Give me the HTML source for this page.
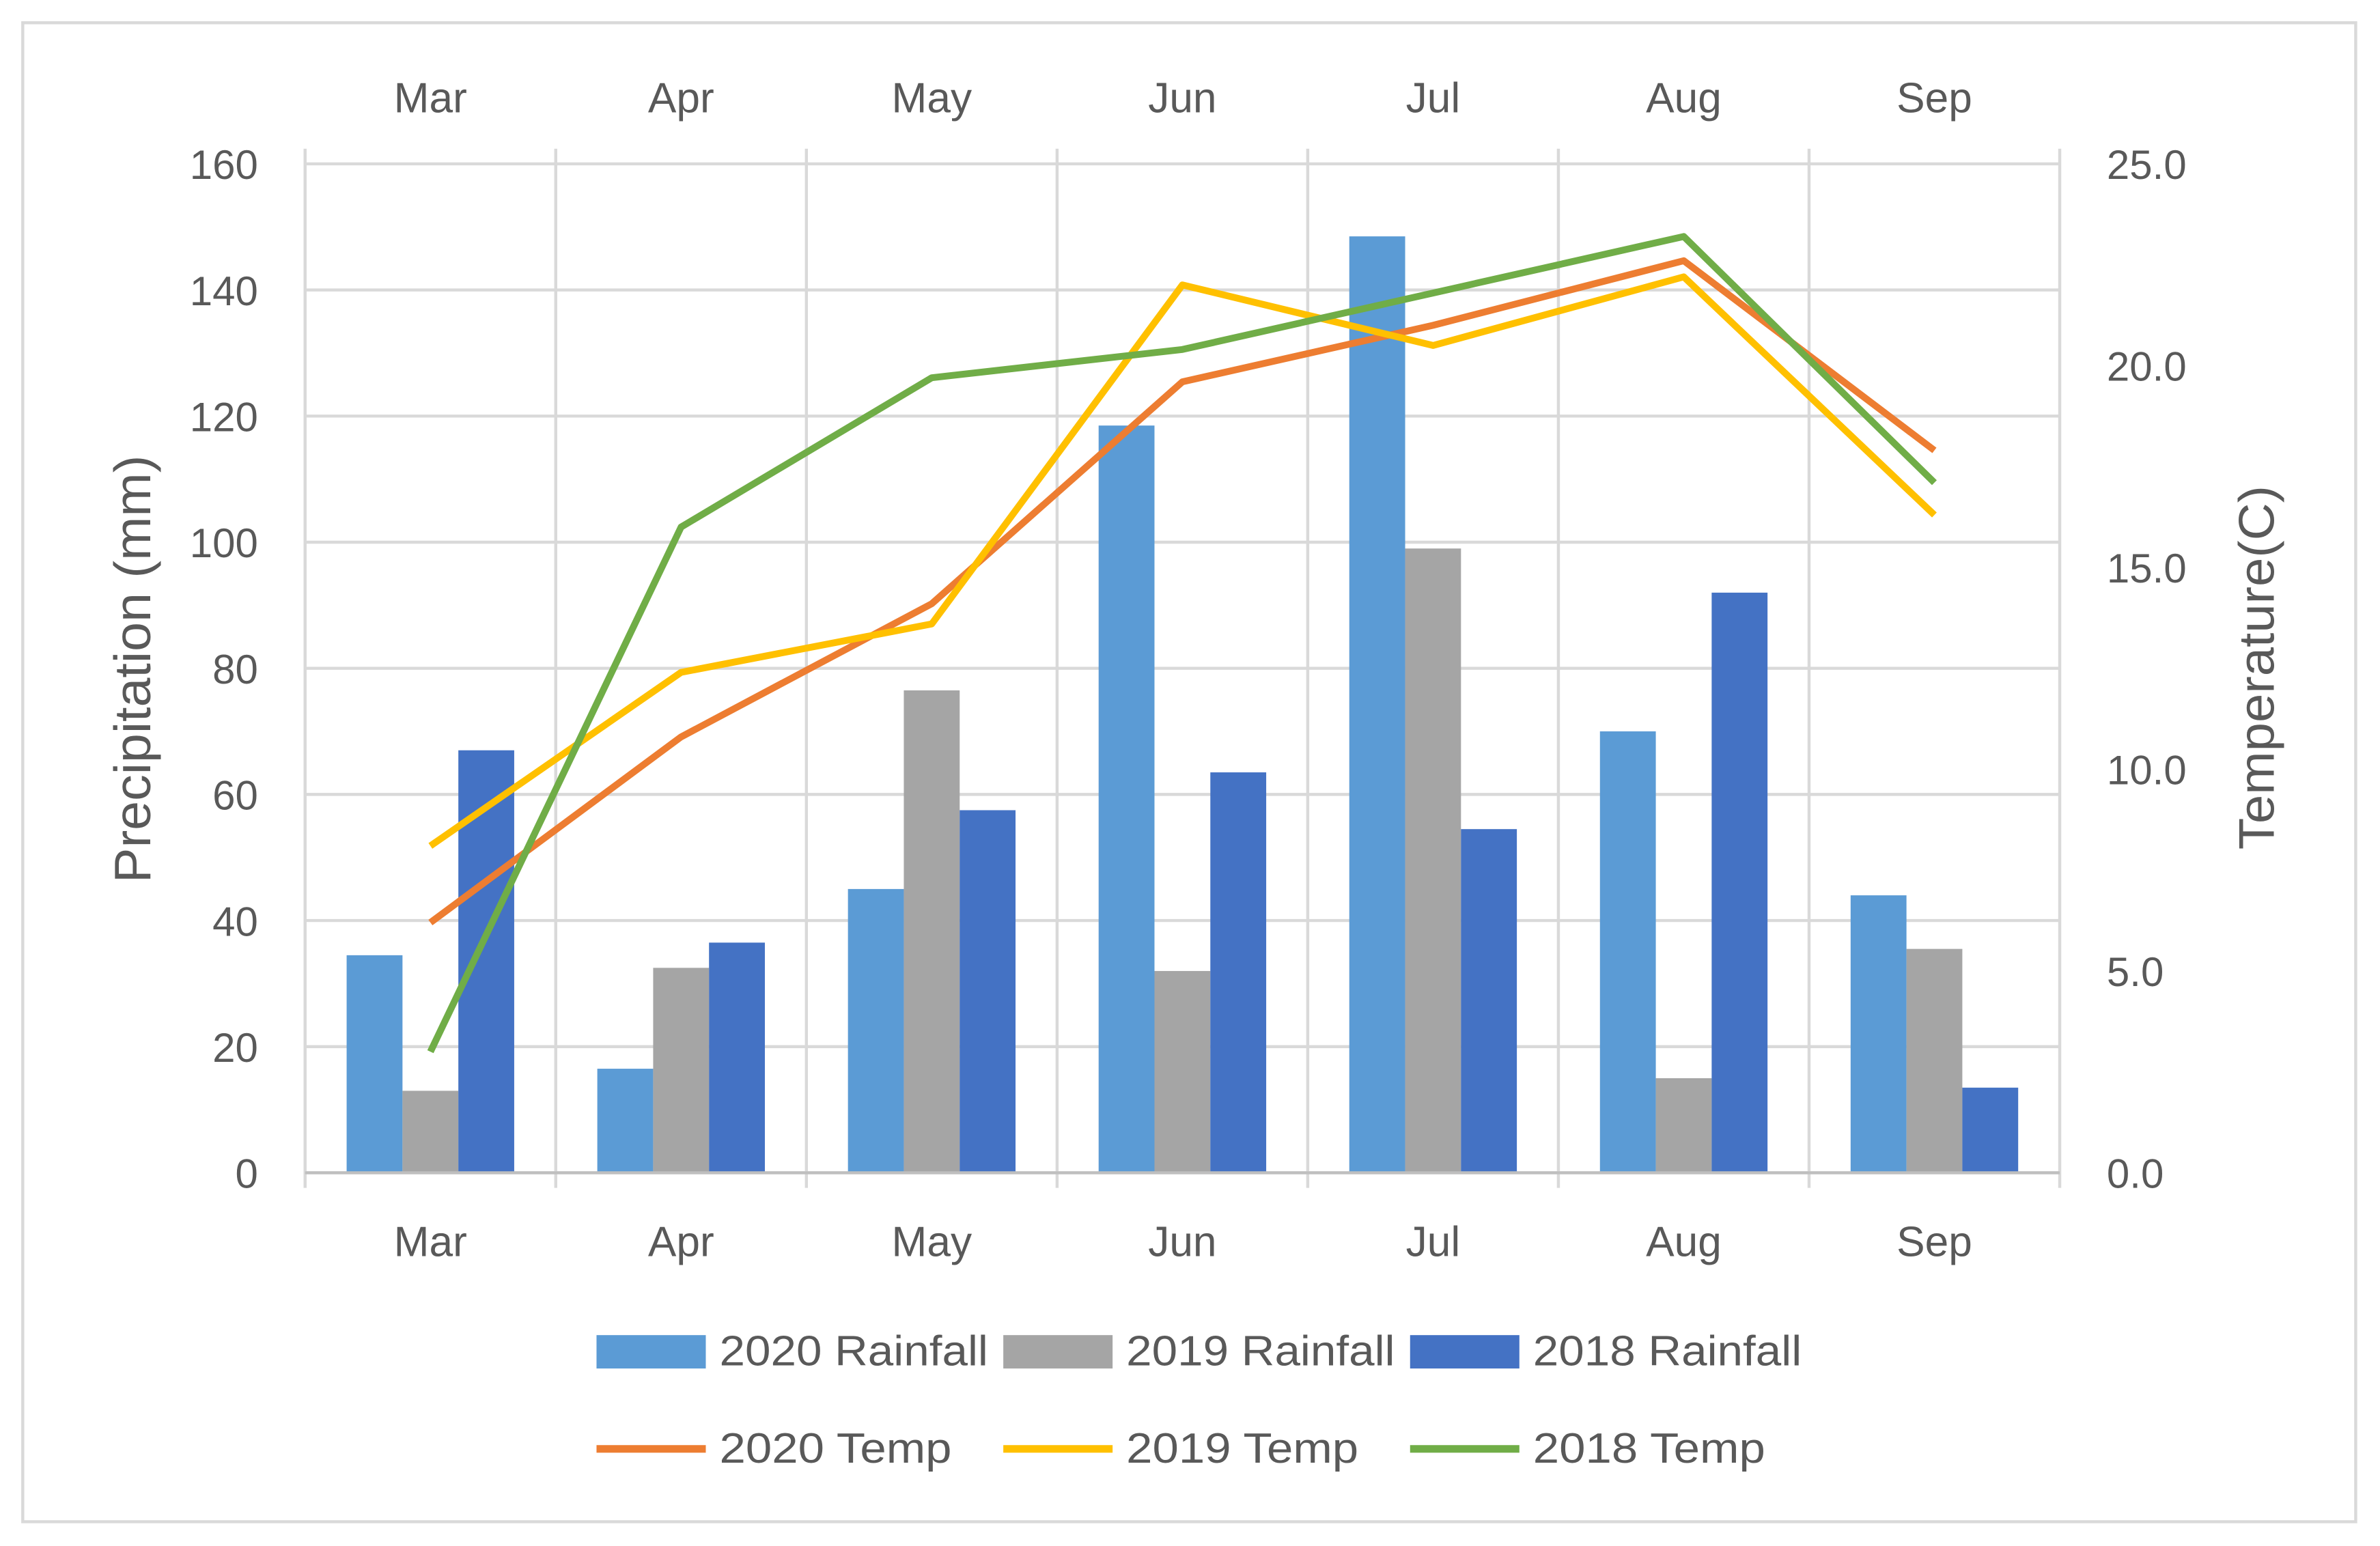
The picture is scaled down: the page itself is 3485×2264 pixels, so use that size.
<!DOCTYPE html>
<html><head><meta charset="utf-8"><style>
html,body{margin:0;padding:0;background:#fff}
svg{display:block}
text{font-family:"Liberation Sans",sans-serif;fill:#595959}
</style></head><body>
<svg width="3485" height="2264" viewBox="0 0 1568 1019" preserveAspectRatio="none" xmlns="http://www.w3.org/2000/svg">
<rect x="15" y="15" width="1537" height="988" fill="#fff" stroke="#d9d9d9" stroke-width="2"/>
<g id="grid"></g><g id="bars"></g><g id="lines"></g><g id="axes"></g>
<text transform="translate(99,441) rotate(-90)" text-anchor="middle" font-size="34" textLength="282" lengthAdjust="spacingAndGlyphs">Precipitation (mm)</text>
<text transform="translate(1498,440) rotate(-90)" text-anchor="middle" font-size="33" textLength="240" lengthAdjust="spacingAndGlyphs">Temperature(C)</text>
<g>
<rect x="393" y="880" width="72" height="22" fill="#5b9bd5"/>
<text x="474" y="900" font-size="28" textLength="177" lengthAdjust="spacingAndGlyphs">2020 Rainfall</text>
<rect x="661" y="880" width="72" height="22" fill="#a5a5a5"/>
<text x="742" y="900" font-size="28" textLength="177" lengthAdjust="spacingAndGlyphs">2019 Rainfall</text>
<rect x="929" y="880" width="72" height="22" fill="#4472c4"/>
<text x="1010" y="900" font-size="28" textLength="177" lengthAdjust="spacingAndGlyphs">2018 Rainfall</text>
<line x1="393" y1="955" x2="465" y2="955" stroke="#ed7d31" stroke-width="5"/>
<text x="474" y="964" font-size="28" textLength="153" lengthAdjust="spacingAndGlyphs">2020 Temp</text>
<line x1="661" y1="955" x2="733" y2="955" stroke="#ffc000" stroke-width="5"/>
<text x="742" y="964" font-size="28" textLength="153" lengthAdjust="spacingAndGlyphs">2019 Temp</text>
<line x1="929" y1="955" x2="1001" y2="955" stroke="#70ad47" stroke-width="5"/>
<text x="1010" y="964" font-size="28" textLength="153" lengthAdjust="spacingAndGlyphs">2018 Temp</text>
</g>
</svg>
<script>
const months=["Mar","Apr","May","Jun","Jul","Aug","Sep"];
const rain2020=[34.5,16.5,45,118.5,148.5,70,44];
const rain2019=[13,32.5,76.5,32,99,15,35.5];
const rain2018=[67,36.5,57.5,63.5,54.5,92,13.5];
const temp2020=[6.2,10.8,14.1,19.6,21.0,22.6,17.9];
const temp2019=[8.1,12.4,13.6,22.0,20.5,22.2,16.3];
const temp2018=[3.0,16.0,19.7,20.4,21.8,23.2,17.1];
const yTicks=[0,20,40,60,80,100,120,140,160];
const y2Ticks=["0.0","5.0","10.0","15.0","20.0","25.0"];
const L=201,R=1357,B=773,T=108;
const cw=(R-L)/months.length;
const xc=i=>L+cw*(i+0.5);
const y=v=>B-(v/160)*(B-T);
const y2=v=>B-(v/25)*(B-T);
const NS="http://www.w3.org/2000/svg";
function mk(tag,parent,attrs){const e=document.createElementNS(NS,tag);for(const k in attrs)e.setAttribute(k,attrs[k]);document.getElementById(parent).appendChild(e);return e;}
yTicks.forEach(v=>{
  const l=mk('line','grid',{x1:L,x2:R,y1:y(v),y2:y(v),stroke:'#d9d9d9','stroke-width':2});
  
  
  const t=mk('text','axes',{x:170,y:y(v)+10,'text-anchor':'end','font-size':27});
  t.textContent=v;
  
  
});
y2Ticks.forEach(s=>{
  const t=mk('text','axes',{x:1388,y:y2(parseFloat(s))+10,'text-anchor':'start','font-size':27});
  t.textContent=s;
  
  
});
for(let i=0;i<=months.length;i++){
  const x=L+cw*i;
  const l=mk('line','grid',{x1:x,x2:x,y1:98,y2:783,stroke:'#d9d9d9','stroke-width':2});
  
  
}
months.forEach((m,i)=>{
  [[74,'x-tick-label-top'],[828,'x-tick-label']].forEach(([yy,n])=>{
    const t=mk('text','axes',{x:xc(i),y:yy,'text-anchor':'middle','font-size':28});
    t.textContent=m;
    
    
  });
});
const bw=36.8;
[[rain2020,'#5b9bd5','bar-2020'],[rain2019,'#a5a5a5','bar-2019'],[rain2018,'#4472c4','bar-2018']].forEach(([arr,c,n],k)=>{
  arr.forEach((v,i)=>{
    const r=mk('rect','bars',{x:xc(i)-1.5*bw+k*bw,y:y(v),width:bw,height:B-y(v),fill:c});
    
    
  });
});
mk('line','axes',{x1:L,x2:R,y1:B,y2:B,stroke:'#bfbfbf','stroke-width':2});
[[temp2020,'#ed7d31','line-2020-temp'],[temp2019,'#ffc000','line-2019-temp'],[temp2018,'#70ad47','line-2018-temp']].forEach(([arr,c,n])=>{
  const p=mk('polyline','lines',{points:arr.map((v,i)=>xc(i)+','+y2(v)).join(' '),fill:'none',stroke:c,'stroke-width':4.5,'stroke-linejoin':'round'});
  
  
});
</script>
</body></html>
